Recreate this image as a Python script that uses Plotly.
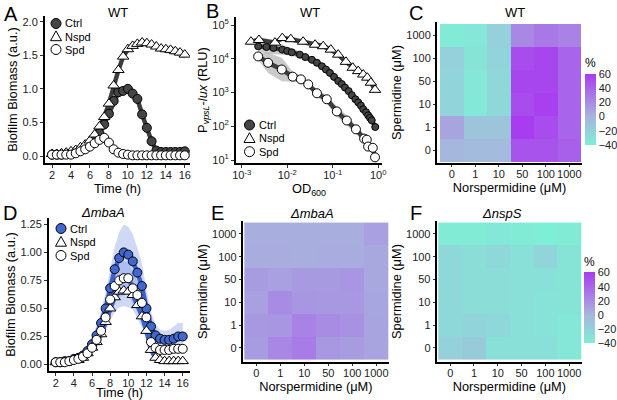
import numpy as np
import plotly.graph_objects as go

W, H = 617, 400
FONT = "Liberation Sans, Arial, sans-serif"

# ---- A / D: biofilm time courses (h) ----
time_h = [2, 2.5, 3, 3.5, 4, 4.5, 5, 5.5, 6, 6.5, 7, 7.5, 8, 8.5, 9, 9.5,
          10, 10.5, 11, 11.5, 12, 12.5, 13, 13.5, 14, 14.5, 15, 15.5, 16]

wt_ctrl = [0.02, 0.02, 0.02, 0.03, 0.04, 0.06, 0.09, 0.12, 0.17, 0.25, 0.34, 0.47, 0.63, 0.82, 0.95, 0.97,
           1.0, 0.93, 0.85, 0.62, 0.42, 0.22, 0.08, 0.06, 0.06, 0.06, 0.06, 0.06, 0.07]
wt_ctrl_sd = [0.01, 0.01, 0.01, 0.01, 0.01, 0.01, 0.02, 0.02, 0.03, 0.03, 0.04, 0.05, 0.05, 0.06, 0.07, 0.07,
              0.07, 0.06, 0.05, 0.04, 0.03, 0.03, 0.02, 0.01, 0.01, 0.01, 0.01, 0.01, 0.01]
wt_nspd = [0.03, 0.03, 0.04, 0.05, 0.07, 0.09, 0.13, 0.17, 0.23, 0.32, 0.44, 0.58, 0.78, 1.05, 1.28, 1.48,
           1.59, 1.64, 1.67, 1.69, 1.68, 1.66, 1.63, 1.6, 1.59, 1.58, 1.56, 1.54, 1.51]
wt_nspd_sd = [0.01, 0.01, 0.01, 0.01, 0.01, 0.02, 0.02, 0.03, 0.03, 0.04, 0.05, 0.06, 0.07, 0.07, 0.07, 0.07,
              0.06, 0.06, 0.05, 0.05, 0.05, 0.05, 0.04, 0.04, 0.06, 0.06, 0.06, 0.06, 0.06]
wt_spd = [0.02, 0.02, 0.02, 0.02, 0.02, 0.04, 0.07, 0.1, 0.14, 0.19, 0.24, 0.27, 0.2, 0.1, 0.05, 0.03,
          0.02, 0.01, 0.01, 0.01, 0.01, 0.01, 0.01, 0.01, 0.01, 0.01, 0.01, 0.01, 0.01]
wt_spd_sd = [0.01, 0.01, 0.01, 0.01, 0.01, 0.01, 0.01, 0.02, 0.02, 0.02, 0.02, 0.03, 0.03, 0.02, 0.02, 0.01,
             0.01, 0.01, 0.01, 0.01, 0.01, 0.01, 0.01, 0.01, 0.01, 0.01, 0.01, 0.01, 0.01]

mba_ctrl = [0.02, 0.02, 0.03, 0.03, 0.05, 0.06, 0.08, 0.12, 0.18, 0.26, 0.37, 0.5, 0.68, 0.85, 0.95, 1.0,
            0.98, 0.92, 0.82, 0.7, 0.5, 0.34, 0.26, 0.23, 0.22, 0.22, 0.23, 0.25, 0.25]
mba_ctrl_sd = [0.01, 0.01, 0.01, 0.01, 0.02, 0.02, 0.03, 0.05, 0.07, 0.09, 0.11, 0.14, 0.17, 0.2, 0.23, 0.25,
               0.25, 0.24, 0.22, 0.2, 0.17, 0.13, 0.1, 0.08, 0.08, 0.09, 0.11, 0.12, 0.12]
mba_nspd = [0.02, 0.02, 0.02, 0.03, 0.04, 0.04, 0.06, 0.1, 0.15, 0.2, 0.27, 0.38, 0.5, 0.6, 0.65, 0.66,
            0.65, 0.62, 0.53, 0.43, 0.3, 0.13, 0.06, 0.04, 0.03, 0.03, 0.03, 0.03, 0.03]
mba_nspd_sd = [0.01, 0.01, 0.01, 0.01, 0.01, 0.02, 0.02, 0.03, 0.04, 0.05, 0.07, 0.09, 0.11, 0.13, 0.14, 0.14,
               0.14, 0.13, 0.12, 0.1, 0.08, 0.05, 0.03, 0.02, 0.02, 0.02, 0.02, 0.02, 0.02]
mba_spd = [0.02, 0.02, 0.02, 0.03, 0.04, 0.05, 0.07, 0.1, 0.15, 0.22, 0.3, 0.42, 0.58, 0.7, 0.75, 0.77,
           0.77, 0.68, 0.62, 0.55, 0.42, 0.2, 0.15, 0.13, 0.13, 0.13, 0.14, 0.14, 0.14]
mba_spd_sd = [0.01, 0.01, 0.01, 0.01, 0.01, 0.02, 0.02, 0.03, 0.05, 0.06, 0.08, 0.1, 0.12, 0.14, 0.15, 0.15,
              0.15, 0.14, 0.13, 0.12, 0.1, 0.06, 0.05, 0.04, 0.04, 0.04, 0.04, 0.04, 0.04]

# ---- B: PvpsL-lux vs OD600 (sd in log10 units) ----
od_ctrl = [0.0023, 0.0035, 0.005, 0.0078, 0.01, 0.0126, 0.019, 0.025, 0.035, 0.045, 0.058, 0.071, 0.087, 0.107,
           0.132, 0.158, 0.186, 0.224, 0.263, 0.316, 0.363, 0.417, 0.468, 0.54, 0.6, 0.66, 0.72, 0.86]
rlu_ctrl = [23400, 22400, 20900, 18600, 17000, 15500, 13200, 11200, 9300, 7600, 6000, 4800, 3800, 2900,
            2200, 1780, 1400, 1100, 830, 630, 510, 410, 320, 260, 210, 178, 150, 95]
rlu_ctrl_sd = [0.15, 0.2, 0.2, 0.15, 0.12, 0.1, 0.1, 0.08, 0.08, 0.08, 0.08, 0.08, 0.08, 0.08,
               0.08, 0.1, 0.1, 0.1, 0.1, 0.1, 0.1, 0.1, 0.1, 0.1, 0.1, 0.08, 0.08, 0.08]
od_nspd = [0.0016, 0.0024, 0.0054, 0.0078, 0.012, 0.0224, 0.041, 0.062, 0.091, 0.132, 0.195, 0.275, 0.363,
           0.468, 0.575, 0.69, 0.85]
rlu_nspd = [32000, 36000, 30000, 41000, 38000, 32000, 26000, 23500, 18600, 13200, 8100, 5400, 4300,
            3400, 2750, 1950, 1200]
rlu_nspd_sd = [0.08, 0.08, 0.08, 0.08, 0.08, 0.08, 0.08, 0.08, 0.08, 0.08, 0.08, 0.08, 0.08,
               0.08, 0.08, 0.08, 0.08]
od_spd = [0.0023, 0.0038, 0.0076, 0.0132, 0.02, 0.029, 0.045, 0.074, 0.123, 0.204, 0.324, 0.49, 0.56,
          0.6, 0.76, 0.85]
rlu_spd = [11700, 7600, 4800, 2950, 2450, 1740, 950, 630, 275, 148, 81, 43, 40, 25, 23, 12]
rlu_spd_sd = [0.1, 0.3, 0.35, 0.15, 0.1, 0.1, 0.12, 0.12, 0.15, 0.15, 0.12, 0.12, 0.12, 0.1, 0.1, 0.1]

# ---- C / E / F: % change heatmaps, rows = spermidine (bottom -> top) ----
nspd_levels = ["0", "1", "10", "50", "100", "1000"]
spd_levels = ["0", "1", "10", "50", "100", "1000"]
wt_pct = [
    [-2, -5, -5, 48, 48, 42],
    [8, -12, -12, 60, 52, 40],
    [-22, -36, -25, 52, 58, 40],
    [-22, -35, -24, 55, 55, 40],
    [-20, -33, -22, 52, 55, 40],
    [-38, -35, -20, 22, 30, 25],
]
mba_pct = [
    [12, 22, 28, 14, 12, 8],
    [14, 15, 25, 20, 18, 8],
    [10, 20, 15, 14, 14, 7],
    [12, 10, 13, 13, 15, 6],
    [4, 4, 3, 4, 4, 6],
    [3, 3, 3, 3, 3, 10],
]
nsp_pct = [
    [-20, -16, -30, -30, -30, -35],
    [-25, -22, -25, -30, -32, -35],
    [-25, -28, -28, -30, -32, -33],
    [-25, -28, -28, -30, -30, -33],
    [-25, -28, -25, -30, -22, -33],
    [-38, -38, -36, -38, -40, -38],
]
pct_ticks = [60, 40, 20, 0, -20, -40]

PCT_SCALE = [[0, "#7feed6"], [0.4, "#a8b4dd"], [1, "#a83cf0"]]


def px_x(px):
    return px / W


def px_y(py):
    return 1 - py / H


def _add_series(fig, x, y, lo, hi, ax, band, line, marker):
    """Adds the ribbon now; returns what is needed for line + markers later."""
    fig.add_trace(go.Scatter(x=list(x) + list(x)[::-1], y=list(hi) + list(lo)[::-1],
                             fill="toself", fillcolor=band, line=dict(width=0),
                             mode="lines", hoverinfo="skip", showlegend=False,
                             xaxis="x" + ax, yaxis="y" + ax))
    return dict(x=x, y=y, ax=ax, line=line, marker=marker)


def _draw_lines_and_markers(fig, series):
    for s in series:
        fig.add_trace(go.Scatter(x=s["x"], y=s["y"], mode="lines", line=s["line"],
                                 showlegend=False, xaxis="x" + s["ax"], yaxis="y" + s["ax"]))
    for s in series:
        fig.add_trace(go.Scatter(x=s["x"], y=s["y"], mode="markers", marker=s["marker"],
                                 showlegend=False, xaxis="x" + s["ax"], yaxis="y" + s["ax"]))


def _add_legend(fig, x_px, ys_px, fills, names):
    """ggplot-style key drawn with pixel-sized shapes and text."""
    kinds = ["circle", "triangle", "circle"]
    for kind, fill, name, y_px in zip(kinds, fills, names, ys_px):
        common = dict(xref="paper", yref="paper", xsizemode="pixel", ysizemode="pixel",
                      xanchor=px_x(x_px), yanchor=px_y(y_px), fillcolor=fill,
                      line=dict(color="black", width=1))
        if kind == "circle":
            fig.add_shape(type="circle", x0=-5, x1=5, y0=-5, y1=5, **common)
        else:
            fig.add_shape(type="path", path="M -5.5,-4.2 L 5.5,-4.2 L 0,5.6 Z", **common)
        fig.add_annotation(x=px_x(x_px + 7), y=px_y(y_px), xref="paper", yref="paper",
                           text=name, showarrow=False, xanchor="left", yanchor="middle",
                           font=dict(size=11, color="black"))


fig = go.Figure()

# ---- A ----
gray_band = "rgba(150,150,150,0.5)"
gray_line = dict(color="#3d3d3d", width=4.5)
a_series = []
for y, sd, mk in [
    (wt_ctrl, wt_ctrl_sd, dict(symbol="circle", size=9, color="#454545", line=dict(color="black", width=1))),
    (wt_nspd, wt_nspd_sd, dict(symbol="triangle-up", size=10, color="white", line=dict(color="black", width=1))),
    (wt_spd, wt_spd_sd, dict(symbol="circle", size=9, color="white", line=dict(color="black", width=1))),
]:
    y = np.array(y)
    a_series.append(_add_series(fig, time_h, y, y - np.array(sd), y + np.array(sd), "",
                                gray_band, gray_line, mk))
_draw_lines_and_markers(fig, a_series)

# ---- B ----
b_series = []
for x, y, sd, mk in [
    (od_ctrl, rlu_ctrl, rlu_ctrl_sd, dict(symbol="circle", size=7, color="#454545", line=dict(color="black", width=1))),
    (od_nspd, rlu_nspd, rlu_nspd_sd, dict(symbol="triangle-up", size=10, color="white", line=dict(color="black", width=1))),
    (od_spd, rlu_spd, rlu_spd_sd, dict(symbol="circle", size=9, color="white", line=dict(color="black", width=1))),
]:
    y = np.array(y, dtype=float)
    f = 10 ** np.array(sd)
    b_series.append(_add_series(fig, x, y, y / f, y * f, "2", gray_band, gray_line, mk))
_draw_lines_and_markers(fig, b_series)

# ---- D ----
blue_band = "rgba(95,130,225,0.3)"
blue_line = dict(color="#3b62d2", width=4.5)
d_series = []
for y, sd, mk in [
    (mba_ctrl, mba_ctrl_sd, dict(symbol="circle", size=9, color="#4068d0", line=dict(color="black", width=1))),
    (mba_nspd, mba_nspd_sd, dict(symbol="triangle-up", size=10, color="white", line=dict(color="black", width=1))),
    (mba_spd, mba_spd_sd, dict(symbol="circle", size=9, color="white", line=dict(color="black", width=1))),
]:
    y = np.array(y)
    d_series.append(_add_series(fig, time_h, y, np.clip(y - np.array(sd), 0, None), y + np.array(sd), "4",
                                blue_band, blue_line, mk))
_draw_lines_and_markers(fig, d_series)

# ---- heatmaps ----
fig.add_trace(go.Heatmap(z=wt_pct, x=nspd_levels, y=spd_levels, coloraxis="coloraxis",
                         xaxis="x3", yaxis="y3"))
fig.add_trace(go.Heatmap(z=mba_pct, x=nspd_levels, y=spd_levels, coloraxis="coloraxis",
                         xaxis="x5", yaxis="y5"))
fig.add_trace(go.Heatmap(z=nsp_pct, x=nspd_levels, y=spd_levels, coloraxis="coloraxis2",
                         xaxis="x6", yaxis="y6"))

axis_style = dict(showline=True, linecolor="black", linewidth=2, ticks="outside", ticklen=3,
                  tickwidth=1, tickcolor="#333", showgrid=False, zeroline=False,
                  tickfont=dict(size=11, color="#222"), automargin=False)


def _ax(dom, anchor, **kw):
    d = dict(axis_style)
    d.update(kw)
    d["domain"] = dom
    d["anchor"] = anchor
    return d


def xdom(a, b):
    return [px_x(a), px_x(b)]


def ydom(top, bottom):
    return [px_y(bottom), px_y(top)]


def _title(text, standoff):
    return dict(text=text, standoff=standoff, font=dict(size=12.8, color="black"))


biomass_title = _title("Biofilm Biomass (a.u.)", 2)
nspd_title = _title("Norspermidine (μM)", 0)
spd_title = _title("Spermidine (μM)", 2)
xtick = dict(ticklabelstandoff=-2)

colorbar_common = dict(thickness=11, lenmode="pixels", len=90, xanchor="left", yanchor="middle",
                       xpad=0, ypad=0, outlinewidth=0, ticks="", tickvals=pct_ticks,
                       tickfont=dict(size=11, color="#222"),
                       title=dict(text="%", side="top", font=dict(size=12, color="black")))

fig.update_layout(
    width=W, height=H, margin=dict(l=0, r=0, t=0, b=0, pad=0),
    paper_bgcolor="white", plot_bgcolor="white",
    font=dict(family=FONT, color="black"), showlegend=False,
    xaxis=_ax(xdom(45, 190), "y", range=[1.26, 16.55], tickvals=[2, 4, 6, 8, 10, 12, 14, 16],
              title=_title("Time (h)", 0), **xtick),
    yaxis=_ax(ydom(16, 163), "x", range=[-0.104, 2.085], tickvals=[0, 0.5, 1, 1.5, 2], tickformat=".1f",
              title=biomass_title),
    xaxis2=_ax(xdom(236, 382), "y2", type="log", range=[-3.125, 0.083], tickvals=[0.001, 0.01, 0.1, 1],
               ticktext=["10<sup>-3</sup>", "10<sup>-2</sup>", "10<sup>-1</sup>", "10<sup>0</sup>"],
               title=_title("OD<sub>600</sub>", 1), **xtick),
    yaxis2=_ax(ydom(17, 163), "x2", type="log", range=[0.911, 5.237], tickvals=[10, 100, 1000, 10000, 100000],
               ticktext=["10<sup>1</sup>", "10<sup>2</sup>", "10<sup>3</sup>", "10<sup>4</sup>", "10<sup>5</sup>"],
               title=_title("P<sub><i>vpsL</i></sub>-<i>lux</i> (RLU)", 2)),
    xaxis3=_ax(xdom(437, 582), "y3", type="category", range=[-0.628, 5.54], ticklen=2, title=nspd_title, **xtick),
    yaxis3=_ax(ydom(22, 163), "x3", type="category", range=[-0.543, 5.587], ticklen=2, title=spd_title),
    xaxis4=_ax(xdom(49, 190), "y4", range=[1.26, 16.8], tickvals=[2, 4, 6, 8, 10, 12, 14, 16],
               title=_title("Time (h)", 3), **xtick),
    yaxis4=_ax(ydom(218, 371), "x4", range=[-0.058, 1.307], tickvals=[0, 0.25, 0.5, 0.75, 1, 1.25],
               tickformat=".2f", title=biomass_title),
    xaxis5=_ax(xdom(242.7, 389), "y5", type="category", range=[-0.567, 5.53], ticklen=2, title=nspd_title, **xtick),
    yaxis5=_ax(ydom(221, 362), "x5", type="category", range=[-0.62, 5.57], ticklen=2, title=spd_title),
    xaxis6=_ax(xdom(436.7, 582), "y6", type="category", range=[-0.567, 5.54], ticklen=2, title=nspd_title, **xtick),
    yaxis6=_ax(ydom(221, 362), "x6", type="category", range=[-0.62, 5.57], ticklen=2, title=spd_title),
    coloraxis=dict(cmin=-40, cmax=60, colorscale=PCT_SCALE,
                   colorbar=dict(x=px_x(585), y=px_y(100), **colorbar_common)),
    coloraxis2=dict(cmin=-40, cmax=60, colorscale=PCT_SCALE,
                    colorbar=dict(x=px_x(584), y=px_y(298.5), **colorbar_common)),
)

# panel letters and titles
for letter, x_px, y_px in [("A", 2, 14), ("B", 204, 11), ("C", 407, 13), ("D", 1, 213), ("E", 209, 213), ("F", 408, 213)]:
    fig.add_annotation(x=px_x(x_px), y=px_y(y_px), xref="paper", yref="paper", text=letter, showarrow=False,
                       xanchor="left", yanchor="middle", font=dict(size=20, color="black"))
for title, x_px, y_px in [("WT", 118, 13), ("WT", 310, 13), ("WT", 515, 13),
                          ("<i>ΔmbaA</i>", 103, 212), ("<i>ΔmbaA</i>", 312, 213), ("<i>ΔnspS</i>", 502, 213)]:
    fig.add_annotation(x=px_x(x_px), y=px_y(y_px), xref="paper", yref="paper", text=title, showarrow=False,
                       xanchor="center", yanchor="middle", font=dict(size=13, color="black"))

legend_names = ["Ctrl", "Nspd", "Spd"]
_add_legend(fig, 56, [23.5, 36.5, 49.5], ["#454545", "white", "white"], legend_names)
_add_legend(fig, 249.5, [125, 138.3, 151.7], ["#454545", "white", "white"], legend_names)
_add_legend(fig, 61, [228.5, 242, 255.5], ["#4068d0", "white", "white"], legend_names)

# the page's default 8px body margin would push the 617x400 figure off the window
fig.write_html("out.html", config={"displayModeBar": False},
               post_script="document.body.style.margin = '0';")
